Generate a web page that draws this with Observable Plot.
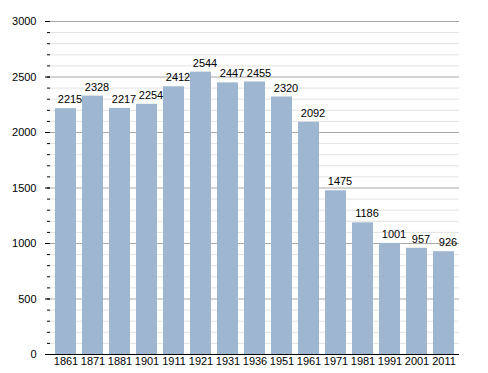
<!DOCTYPE html>
<html>
<head>
<meta charset="utf-8">
<script src="https://cdn.jsdelivr.net/npm/d3@7"></script>
<script src="https://cdn.jsdelivr.net/npm/@observablehq/plot@0.6"></script>
<style>
  body { margin: 0; background: #fff; }
  #chart svg { display: block; }
</style>
</head>
<body>
<div id="chart"></div>
<script>
const years = ["1861","1871","1881","1901","1911","1921","1931","1936","1951","1961","1971","1981","1991","2001","2011"];
const population = [2215,2328,2217,2254,2412,2544,2447,2455,2320,2092,1475,1186,1001,957,926];
const yMajorTicks = [0,500,1000,1500,2000,2500,3000];
const yMinorTicks = d3.range(0, 3001, 100);

const data = years.map((y, i) => ({year: y, value: population[i]}));
const minorOnly = yMinorTicks.filter(v => v % 500 !== 0);

const chart = Plot.plot({
  width: 488,
  height: 373,
  marginLeft: 50,
  marginRight: 29,
  marginTop: 21,
  marginBottom: 19,
  style: {fontFamily: "'Liberation Sans', Arial, sans-serif", fontSize: "11px", color: "#000", background: "#fff"},
  x: {domain: years, paddingInner: 0.22, paddingOuter: 0.05, label: null},
  y: {domain: [0, 3000], label: null},
  marks: [
    Plot.ruleY(minorOnly, {stroke: "#e2e2e2", strokeWidth: 1}),
    Plot.ruleY(yMajorTicks.filter(v => v > 0), {stroke: "#a8a8a8", strokeWidth: 1}),
    Plot.barY(data, {x: "year", y: "value", fill: "#9fb6d1"}),
    Plot.text(data, {x: "year", y: "value", text: d => String(d.value), dy: -9, dx: 4, fill: "#000", fontSize: 11}),
    Plot.axisY(yMinorTicks, {tickSize: 3, text: null, stroke: "#000"}),
    Plot.axisY(yMajorTicks, {tickSize: 5, tickPadding: 9, tickFormat: d => String(d), stroke: "#000", fill: "#000", fontSize: 11}),
    Plot.axisX({tickSize: 0, tickPadding: 3, fill: "#000", fontSize: 11}),
    Plot.ruleX([0], {frameAnchor: "left", stroke: "#000"}),
    Plot.ruleY([0], {stroke: "#000"})
  ]
});
document.getElementById("chart").appendChild(chart);
</script>
</body>
</html>
